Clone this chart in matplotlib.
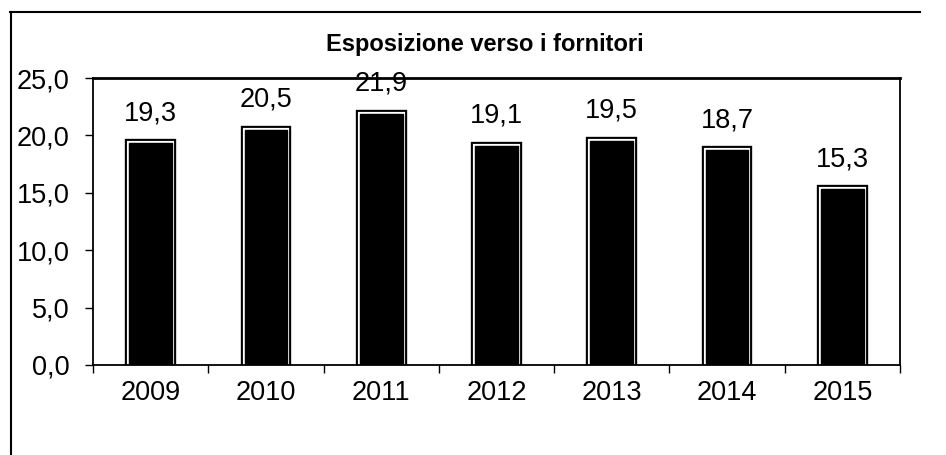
import numpy as np
import matplotlib.pyplot as plt
import matplotlib.patheffects as pe
from matplotlib.lines import Line2D

years = ['2009', '2010', '2011', '2012', '2013', '2014', '2015']
values = [19.3, 20.5, 21.9, 19.1, 19.5, 18.7, 15.3]
value_labels = ['19,3', '20,5', '21,9', '19,1', '19,5', '18,7', '15,3']
yticks = [0, 5, 10, 15, 20, 25]
ytick_labels = ['0,0', '5,0', '10,0', '15,0', '20,0', '25,0']

plt.rcParams['font.family'] = ['Liberation Sans', 'DejaVu Sans']

fig = plt.figure(figsize=(9.46, 4.55), dpi=100)
ax = fig.add_axes([93 / 946, 90 / 455, 807 / 946, 287 / 455])

x = np.arange(len(years))
bars = ax.bar(x, values, width=0.37, color='black', edgecolor='black',
              linewidth=1.0, zorder=2)
for b in bars:
    b.set_path_effects([pe.Stroke(linewidth=6, foreground='black'),
                        pe.Stroke(linewidth=3, foreground='white'),
                        pe.Normal()])

for xi, v, lab in zip(x, values, value_labels):
    ax.text(xi, v + 1.5, lab, ha='center', va='bottom', fontsize=19.5,
            zorder=3)

ax.set_xlim(-0.5, len(years) - 0.5)
ax.set_ylim(0, 25)
ax.set_yticks(yticks)
ax.set_yticklabels(ytick_labels, fontsize=19.5)
ax.set_xticks(x)
ax.set_xticklabels(years, fontsize=19.5)
ax.tick_params(axis='x', which='major', length=0, pad=11)
ax.set_xticks(np.arange(len(years) + 1) - 0.5, minor=True)
ax.tick_params(axis='x', which='minor', length=6, width=1, direction='out')
ax.tick_params(axis='y', length=6, width=1, direction='out', pad=11)

for s in ax.spines.values():
    s.set_linewidth(1.3)
ax.spines['top'].set_linewidth(2)

fig.text(485 / 946, 1 - 44 / 455, 'Esposizione verso i fornitori',
         ha='center', va='center', fontsize=17, fontweight='bold')

# outer frame of the scanned chart
fig.add_artist(Line2D([10 / 946, 920 / 946], [1 - 12 / 455, 1 - 12 / 455],
                      color='black', lw=1.5))
fig.add_artist(Line2D([11 / 946, 11 / 946], [1 - 12 / 455, 0],
                      color='black', lw=1.5))

fig.savefig('out.png', dpi=100)
